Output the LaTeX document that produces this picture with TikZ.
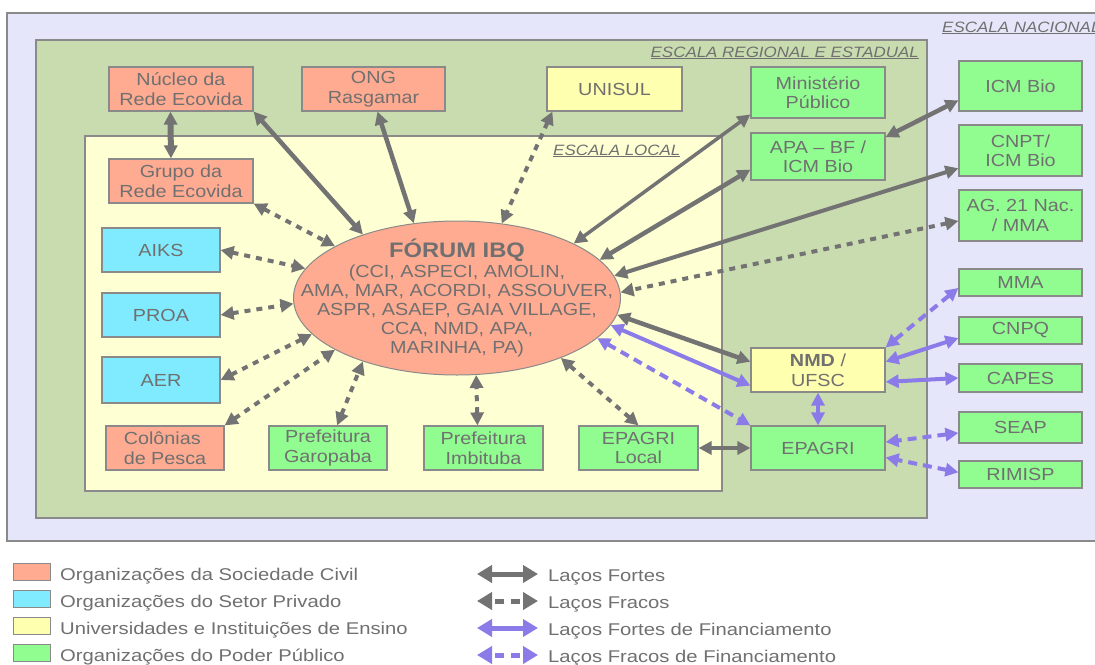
\documentclass[tikz,border=0pt]{standalone}
\usepackage{fontspec}
\setmainfont{Liberation Sans}[FakeStretch=1.13]
\newfontfamily\lgfont{Liberation Sans}[FakeStretch=1.19]
\usetikzlibrary{arrows.meta,calc,shapes.geometric}
\definecolor{txt}{HTML}{707070}
\definecolor{bordr}{HTML}{8A8A8A}
\definecolor{civil}{HTML}{FFAB91}
\definecolor{priv}{HTML}{80EBFF}
\definecolor{univ}{HTML}{FFFFB0}
\definecolor{pub}{HTML}{91FD91}
\definecolor{nat}{HTML}{E6E6FA}
\definecolor{reg}{HTML}{C9DCAF}
\definecolor{loc}{HTML}{FFFFD4}
\definecolor{arr}{HTML}{737373}
\definecolor{fin}{HTML}{8B7BE8}
\newcommand{\boxfont}{\fontsize{17.5}{19.5}\selectfont}
\tikzset{
  box/.style={draw=bordr, line width=1.2pt, text=txt, font=\boxfont, align=center, inner sep=0pt},
  civ/.style={box, fill=civil},
  prv/.style={box, fill=priv},
  uni/.style={box, fill=univ},
  pbl/.style={box, fill=pub},
  region/.style={draw=bordr, line width=1.2pt},
  scalelbl/.style={inner sep=0pt, text=txt, font=\itshape\fontsize{15}{17}\selectfont},
  tipS/.tip={Triangle[length=13pt,width=13pt]},
  strong/.style={draw=arr, line width=4.5pt, {tipS}-{tipS}, color=arr},
  weak/.style={draw=arr, line width=4pt, dash pattern=on 6pt off 6pt, {tipS}-{tipS}, color=arr},
  fstrong/.style={draw=fin, line width=4pt, {tipS}-{tipS}, color=fin},
  fweak/.style={draw=fin, line width=4pt, dash pattern=on 9pt off 6pt, {tipS}-{tipS}, color=fin},
  tipL/.tip={Triangle[length=15pt,width=17pt]},
  lgarrow/.style={line width=5pt, {tipL}-{tipL}},
  swatch/.style={draw=bordr, line width=1pt, minimum width=37pt, minimum height=17pt, inner sep=0pt},
  lgtext/.style={anchor=base west, inner sep=0pt, text=txt, font=\lgfont\fontsize{17}{19}\selectfont}
}
\begin{document}
\begin{tikzpicture}[x=1pt, y=-1pt]
\useasboundingbox (0,0) rectangle (1095,664);
\fill[white] (0,0) rectangle (1095,664);
% scale regions
\filldraw[region, fill=nat] (7,13) rectangle (1110,541);
\filldraw[region, fill=reg] (36,40) rectangle (927,518);
\filldraw[region, fill=loc] (85,136) rectangle (722,491);
\node[scalelbl, anchor=base west] (lnac) at (942,32) {\underline{ESCALA NACIONAL}};
\node[scalelbl, anchor=base east] (lreg) at (919,57) {\underline{ESCALA REGIONAL E ESTADUAL}};
\node[scalelbl, anchor=base west] (lloc) at (553,155) {\underline{ESCALA LOCAL}};

% forum
\node[ellipse, fill=civil, draw=bordr, line width=1pt, minimum width=327pt, minimum height=154pt, inner sep=0pt] (forum) at (457,298) {};
\node[text=txt, align=center, inner sep=0pt, font=\fontsize{17.5}{19}\selectfont] (forumtxt) at (457,298)
 {{\bfseries\fontsize{21}{23}\selectfont FÓRUM IBQ}\\[1pt]
  (CCI, ASPECI, AMOLIN,\\ AMA, MAR, ACORDI, ASSOUVER,\\ ASPR, ASAEP, GAIA VILLAGE,\\ CCA, NMD, APA,\\ MARINHA, PA)};

% nodes
\node[civ, minimum width=144pt, minimum height=44pt] (nucleo) at (181,89) {Núcleo da\\Rede Ecovida};
\node[civ, minimum width=143pt, minimum height=44pt] (ong) at (373.5,89) {ONG\\Rasgamar};
\node[uni, minimum width=135pt, minimum height=44pt] (unisul) at (614.5,89) {UNISUL};
\node[pbl, minimum width=134pt, minimum height=51pt] (min) at (818,92.5) {Ministério\\Público};
\node[pbl, minimum width=134pt, minimum height=47pt] (apa) at (818,156.5) {APA -- BF /\\ICM Bio};
\node[pbl, minimum width=123pt, minimum height=50pt] (icm) at (1020.5,86) {ICM Bio};
\node[pbl, minimum width=123pt, minimum height=51pt] (cnpt) at (1020.5,150.5) {CNPT/\\ICM Bio};
\node[pbl, minimum width=123pt, minimum height=51pt] (ag) at (1020.5,215.5) {AG. 21 Nac.\\/ MMA};
\node[pbl, minimum width=123pt, minimum height=27pt] (mma) at (1020.5,282.5) {MMA};
\node[pbl, minimum width=123pt, minimum height=27pt] (cnpq) at (1020.5,330.5) {CNPQ};
\node[pbl, minimum width=123pt, minimum height=28pt] (capes) at (1020.5,378) {CAPES};
\node[pbl, minimum width=123pt, minimum height=31pt] (seap) at (1020.5,427.5) {SEAP};
\node[pbl, minimum width=123pt, minimum height=27pt] (rimisp) at (1020.5,474.5) {RIMISP};
\node[uni, minimum width=134pt, minimum height=44pt] (nmd) at (818,370) {{\bfseries NMD} /\\UFSC};
\node[pbl, minimum width=134pt, minimum height=44pt] (epagri) at (818,448) {EPAGRI};
\node[pbl, minimum width=119pt, minimum height=44pt] (epagriL) at (638.5,448) {EPAGRI\\Local};
\node[civ, minimum width=144pt, minimum height=44pt] (grupo) at (181,181) {Grupo da\\Rede Ecovida};
\node[prv, minimum width=118pt, minimum height=44pt] (aiks) at (161,250) {AIKS};
\node[prv, minimum width=118pt, minimum height=44pt] (proa) at (161,315) {PROA};
\node[prv, minimum width=118pt, minimum height=46pt] (aer) at (161,380) {AER};
\node[civ, minimum width=118pt, minimum height=44pt, align=left] (colonias) at (165,448) {Colônias\\de Pesca};
\node[pbl, minimum width=118pt, minimum height=44pt] (garopaba) at (328,448) {Prefeitura\\Garopaba};
\node[pbl, minimum width=119pt, minimum height=44pt] (imbituba) at (483.5,448) {Prefeitura\\Imbituba};

% strong ties
\draw[strong, line width=6pt] (nucleo.245) -- (grupo.114);
\draw[strong] (nucleo.south east) -- (forum.146);
\draw[strong] (ong.-80) -- (forum.120);
\draw[strong, line width=3.5pt] (min.198) -- (forum.25);
\draw[strong] (apa.191) -- (forum.15);
\draw[strong] (icm.193) -- (apa.16);
\draw[strong, line width=4pt] (cnpt.196) -- (forum.8);
\draw[strong] (forum.-6) -- (nmd.173);
\draw[strong] (epagriL.east) -- (epagri.west);
% weak ties
\draw[weak] (unisul.200) -- (forum.59);
\draw[weak] (ag.185) -- (forum.2);
\draw[weak] (grupo.south east) -- (forum.157);
\draw[weak] (aiks.east) -- (forum.169);
\draw[weak] (proa.east) -- (forum.182);
\draw[weak] (aer.east) -- (forum.194);
\draw[weak] (colonias.north east) -- (forum.203);
\draw[weak] (garopaba.68) -- (forum.214);
\draw[weak] (imbituba.105) -- (forum.-76);
\draw[weak] (epagriL.north) -- (forum.-30);
% financing ties
\draw[fstrong] (forum.-10) -- (nmd.193);
\draw[fstrong] (cnpq.187) -- (nmd.7);
\draw[fstrong] (capes.west) -- (nmd.-10);
\draw[fweak] (forum.-16) -- (epagri.north west);
\draw[fweak] (nmd.south) -- (epagri.north);
\draw[fweak] (mma.185) -- (nmd.north east);
\draw[fweak] (seap.185) -- (epagri.5);
\draw[fweak] (rimisp.178) -- (epagri.-8);

% legend
\node[swatch, fill=civil] (s1) at (31.5,572) {};
\node[swatch, fill=priv] (s2) at (31.5,599) {};
\node[swatch, fill=univ] (s3) at (31.5,626) {};
\node[swatch, fill=pub] (s4) at (31.5,653) {};
\node[lgtext] (t1) at (60,580) {Organizações da Sociedade Civil};
\node[lgtext] (t2) at (60,607) {Organizações do Setor Privado};
\node[lgtext] (t3) at (60,634) {Universidades e Instituições de Ensino};
\node[lgtext] (t4) at (60,661) {Organizações do Poder Público};
\coordinate (a1) at (477,574); \coordinate (b1) at (538,574);
\coordinate (a2) at (477,601); \coordinate (b2) at (538,601);
\coordinate (a3) at (477,628); \coordinate (b3) at (538,628);
\coordinate (a4) at (477,655); \coordinate (b4) at (538,655);
\draw[lgarrow, arr] (a1) -- (b1);
\draw[lgarrow, arr, dash pattern=on 9pt off 7pt, dash phase=-4pt] (a2) -- (b2);
\draw[lgarrow, fin] (a3) -- (b3);
\draw[lgarrow, fin, dash pattern=on 9pt off 7pt, dash phase=-4pt] (a4) -- (b4);
\node[lgtext] (u1) at (548,581) {Laços Fortes};
\node[lgtext] (u2) at (548,608) {Laços Fracos};
\node[lgtext] (u3) at (548,635) {Laços Fortes de Financiamento};
\node[lgtext] (u4) at (548,662) {Laços Fracos de Financiamento};
\end{tikzpicture}
\end{document}
